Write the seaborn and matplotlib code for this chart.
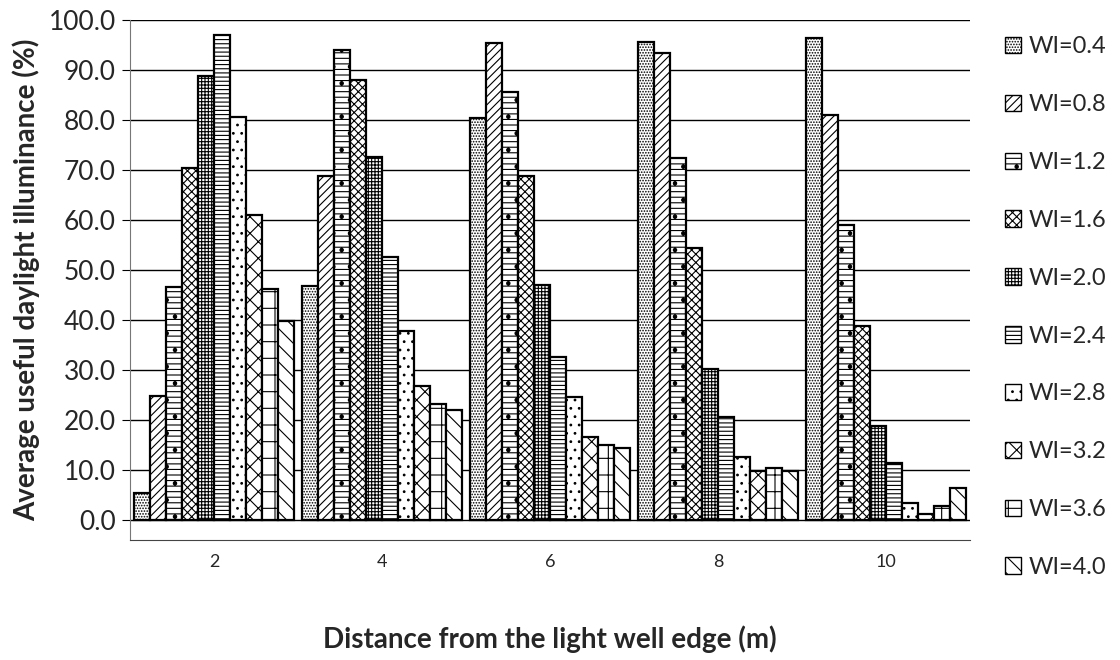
import pandas as pd
import matplotlib.pyplot as plt
import seaborn as sns
from matplotlib.patches import Patch

# ---------------------------
# Data
# ---------------------------
distances = ["2", "4", "6", "8", "10"]
wi_levels = ["WI=0.4", "WI=0.8", "WI=1.2", "WI=1.6", "WI=2.0",
             "WI=2.4", "WI=2.8", "WI=3.2", "WI=3.6", "WI=4.0"]

wi_04 = [5.3, 46.7, 80.3, 95.6, 96.3]
wi_08 = [24.8, 68.8, 95.3, 93.3, 81.0]
wi_12 = [46.6, 94.0, 85.5, 72.3, 59.0]
wi_16 = [70.4, 88.0, 68.7, 54.3, 38.8]
wi_20 = [88.8, 72.5, 47.0, 30.2, 18.7]
wi_24 = [97.0, 52.5, 32.5, 20.5, 11.3]
wi_28 = [80.6, 37.7, 24.5, 12.5, 3.3]
wi_32 = [61.0, 26.8, 16.5, 9.8, 1.2]
wi_36 = [46.2, 23.2, 15.0, 10.3, 2.7]
wi_40 = [39.8, 22.0, 14.3, 9.8, 6.4]

series = [wi_04, wi_08, wi_12, wi_16, wi_20, wi_24, wi_28, wi_32, wi_36, wi_40]
hatches = ["......", "////", "---.", "xxxx", "+++++", "----", "..", "xx", "+", "\\\\"]

rows = []
for lvl, vals in zip(wi_levels, series):
    for d, v in zip(distances, vals):
        rows.append({"distance": d, "wi": lvl, "udi": v})
df = pd.DataFrame(rows)

sns.set_style("white")
plt.rcParams["font.family"] = ["Lato", "DejaVu Sans"]
plt.rcParams["hatch.linewidth"] = 0.8

fig = plt.figure(figsize=(11.2, 6.6), dpi=100)
ax = fig.add_axes([0.116, 0.182, 0.75, 0.788])

sns.barplot(data=df, x="distance", y="udi", hue="wi", order=distances,
            hue_order=wi_levels, color="white", edgecolor="black",
            linewidth=1.6, width=0.95, gap=0, legend=False, ax=ax, zorder=3)

for cont, h in zip(ax.containers, hatches):
    for bar in cont:
        bar.set_facecolor("white")
        bar.set_hatch(h)

ax.set_xlim(-0.5, 4.5)
ax.set_ylim(-4, 100)
ax.set_yticks(range(0, 101, 10))
ax.set_yticklabels([f"{v:.1f}" for v in range(0, 101, 10)], fontsize=19)
ax.yaxis.grid(True, color="black", linewidth=1.0, zorder=0)
ax.set_axisbelow(True)

# category axis: ticks at group boundaries, labels centred
ax.set_xticks(range(len(distances)))
ax.set_xticklabels(distances, fontsize=13)
ax.tick_params(axis="x", length=0, pad=10)
ax.set_xticks([i - 0.5 for i in range(len(distances) + 1)], minor=True)
ax.tick_params(axis="x", which="minor", length=8, direction="out", color="black")
ax.tick_params(axis="y", length=6, direction="out", color="black", left=True, pad=4)

for side in ["top", "right"]:
    ax.spines[side].set_visible(False)
ax.spines["left"].set_color("#777777")
ax.spines["left"].set_linewidth(0.8)
ax.spines["bottom"].set_color("#444444")
ax.spines["bottom"].set_linewidth(0.8)

ax.set_xlabel("Distance from the light well edge (m)", fontsize=20,
              fontweight="bold", labelpad=40)
ax.set_ylabel("Average useful daylight illuminance (%)", fontsize=20,
              fontweight="bold", labelpad=6)

handles = [Patch(facecolor="white", edgecolor="black", hatch=h, label=l)
           for l, h in zip(wi_levels, hatches)]
fig.legend(handles=handles, loc="upper left", bbox_to_anchor=(0.878, 0.977),
           frameon=False, fontsize=17, handlelength=0.7, handleheight=0.7,
           handletextpad=0.3, labelspacing=1.56)

fig.savefig("out.png", dpi=100)
